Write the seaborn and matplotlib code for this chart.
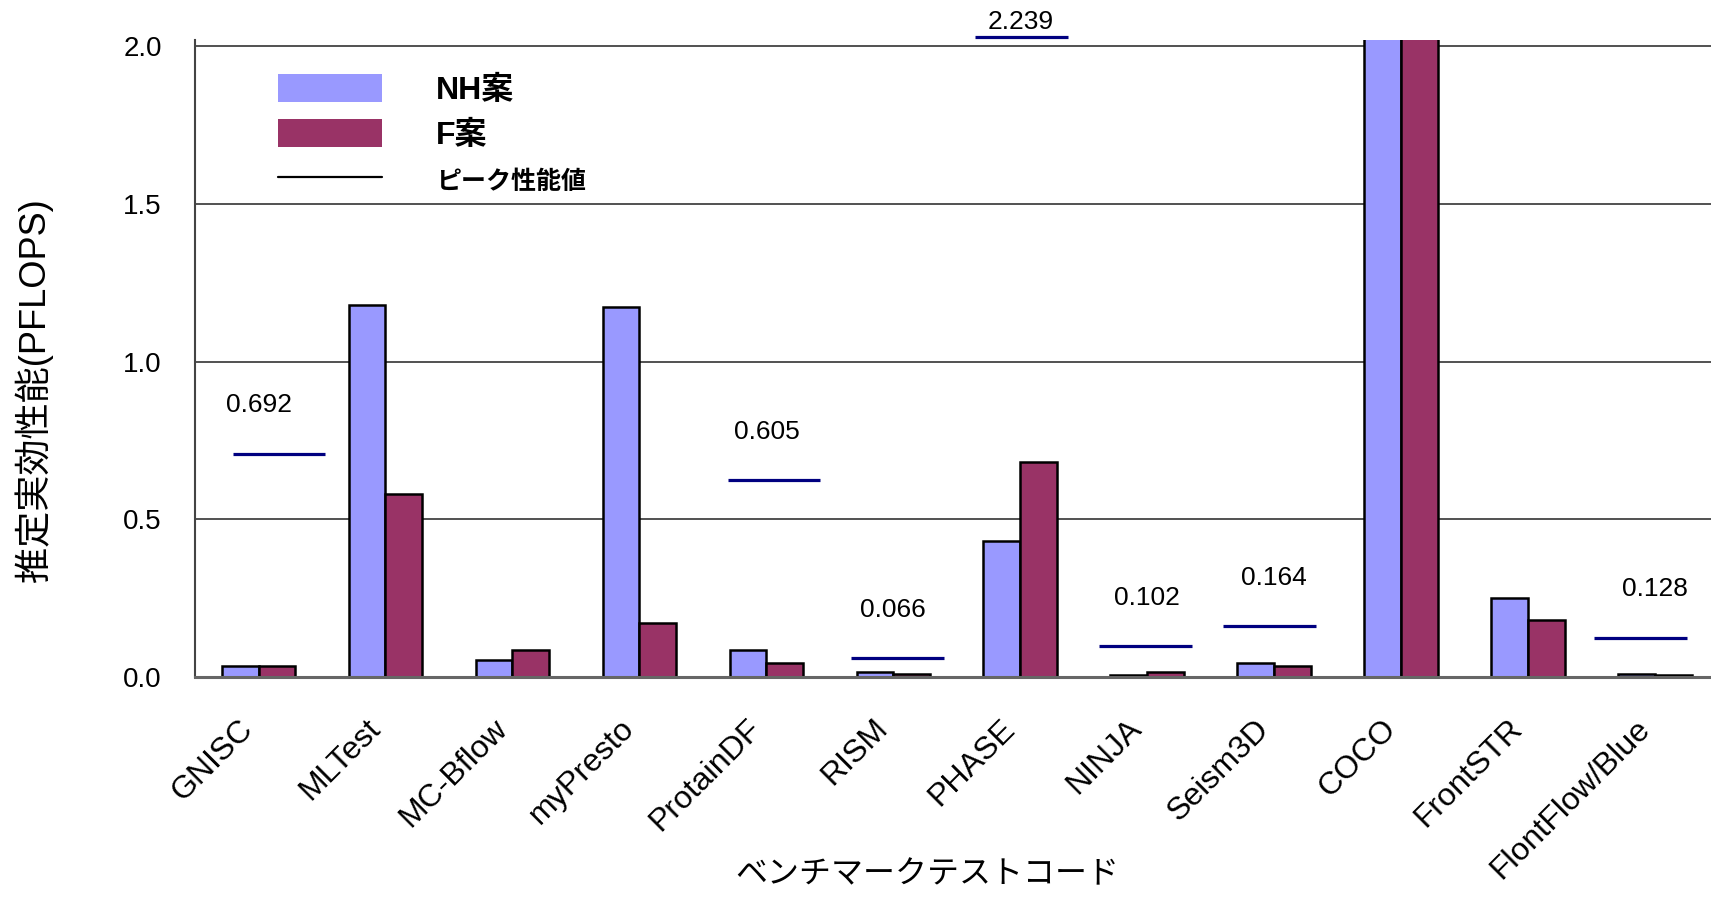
import numpy as np
import pandas as pd
import matplotlib
matplotlib.use("Agg")
import matplotlib.pyplot as plt
import matplotlib.transforms as mtransforms
import seaborn as sns
from matplotlib.patches import Patch
from matplotlib.lines import Line2D

# ---------------- data ----------------
categories = ["GNISC", "MLTest", "MC-Bflow", "myPresto", "ProtainDF", "RISM",
              "PHASE", "NINJA", "Seism3D", "COCO", "FrontSTR", "FlontFlow/Blue"]
series_names = ["NH案", "F案"]
nh_values = [0.035, 1.180, 0.055, 1.173, 0.086, 0.015, 0.432, 0.006, 0.045, 2.10, 0.250, 0.0095]
f_values = [0.035, 0.581, 0.087, 0.171, 0.044, 0.008, 0.682, 0.016, 0.034, 2.10, 0.180, 0.006]

peak_codes = ["GNISC", "ProtainDF", "RISM", "PHASE", "NINJA", "Seism3D", "FlontFlow/Blue"]
peak_labels = ["0.692", "0.605", "0.066", "2.239", "0.102", "0.164", "0.128"]
peak_line_levels = [0.707, 0.624, 0.059, 2.029, 0.097, 0.161, 0.125]

y_ticks = [0.0, 0.5, 1.0, 1.5, 2.0]
y_tick_labels = ["0.0", "0.5", "1.0", "1.5", "2.0"]
legend_peak_name = "ピーク性能値"
x_title = "ベンチマークテストコード"
y_title = "推定実効性能(PFLOPS)"

# ---------------- style ----------------
sns.set_style("white")
plt.rcParams["font.family"] = ["Liberation Sans", "Noto Sans CJK JP", "DejaVu Sans"]
plt.rcParams["text.color"] = "black"
plt.rcParams["axes.labelcolor"] = "black"
plt.rcParams["xtick.color"] = "black"
plt.rcParams["ytick.color"] = "black"

NH_COLOR = "#9999FF"
F_COLOR = "#993366"
PEAK_COLOR = "#000080"

df = pd.DataFrame({
    "code": categories * 2,
    "value": nh_values + f_values,
    "series": [series_names[0]] * len(categories) + [series_names[1]] * len(categories),
})

fig = plt.figure(figsize=(17.11, 8.98), dpi=100)
ax = fig.add_axes([0.114, 0.2461, 0.886, 0.7097])

sns.barplot(data=df, x="code", y="value", hue="series", order=categories,
            hue_order=series_names, palette=[NH_COLOR, F_COLOR], saturation=1,
            width=0.58, edgecolor="black", linewidth=1.8, errorbar=None,
            legend=False, ax=ax)

ax.set_ylim(0, 2.02)
ax.set_xlim(-0.5, 11.44)

# grid lines
ax.set_yticks(y_ticks)
ax.set_yticklabels(y_tick_labels, fontsize=20)
ax.yaxis.grid(True, color="#222222", linewidth=1.1)
ax.set_axisbelow(True)
ax.tick_params(axis="y", length=0, pad=24, labelcolor="black")

# x ticks
ax.set_xticks(range(len(categories)))
ax.set_xticklabels(categories, fontsize=23, rotation=45, ha="right",
                   va="center", rotation_mode="anchor")
ax.tick_params(axis="x", which="major", length=0, pad=34, labelcolor="black")
shift = mtransforms.ScaledTranslation(-10 / 100, 0, fig.dpi_scale_trans)
for lbl in ax.get_xticklabels():
    lbl.set_transform(lbl.get_transform() + shift)
ax.set_xticks(np.arange(0.5, len(categories) - 0.5, 1.0), minor=True)
ax.tick_params(axis="x", which="minor", direction="in", length=7, width=1,
               color="#777777")

for s in ["top", "right"]:
    ax.spines[s].set_visible(False)
ax.spines["left"].set_color("#444444")
ax.spines["left"].set_linewidth(1.5)
ax.spines["bottom"].set_color("#666666")
ax.spines["bottom"].set_linewidth(2.2)

# peak lines + labels
for code, lab, lvl in zip(peak_codes, peak_labels, peak_line_levels):
    i = categories.index(code)
    c = i + 0.16 - 0.025 * i
    ax.hlines(lvl, c - 0.365, c + 0.365, color=PEAK_COLOR, linewidth=2.3,
              clip_on=False, zorder=5)
    dy = 11 if lvl > 2.0 else 35
    ax.annotate(lab, xy=(i, lvl), xytext=(0, dy), textcoords="offset points",
                ha="center", va="center", fontsize=19, color="black",
                annotation_clip=False)

# axis titles
ax.set_xlabel(x_title, fontsize=23, family=["Noto Sans CJK JP"], color="black")
ax.xaxis.set_label_coords(0.483, -0.285)
ax.set_ylabel(y_title, fontsize=26, family=["Liberation Sans", "Noto Sans CJK JP"],
              color="black")
ax.yaxis.set_label_coords(-0.094, 0.45)

# legend
handles = [Patch(facecolor=NH_COLOR, edgecolor="none"),
           Patch(facecolor=F_COLOR, edgecolor="none"),
           Line2D([0], [0], color="black", linewidth=1.6)]
leg = ax.legend(handles, series_names + [legend_peak_name], loc="upper left",
                bbox_to_anchor=(0.0547, 0.946), frameon=False,
                prop={"family": ["Liberation Sans", "Noto Sans CJK JP"],
                      "weight": "bold", "size": 23},
                handlelength=3.25, handleheight=0.95, handletextpad=1.7,
                labelspacing=0.42, borderpad=0, borderaxespad=0)
for t in leg.get_texts():
    t.set_color("black")
leg.get_texts()[2].set_fontsize(18)

fig.savefig("out.png", dpi=100)
